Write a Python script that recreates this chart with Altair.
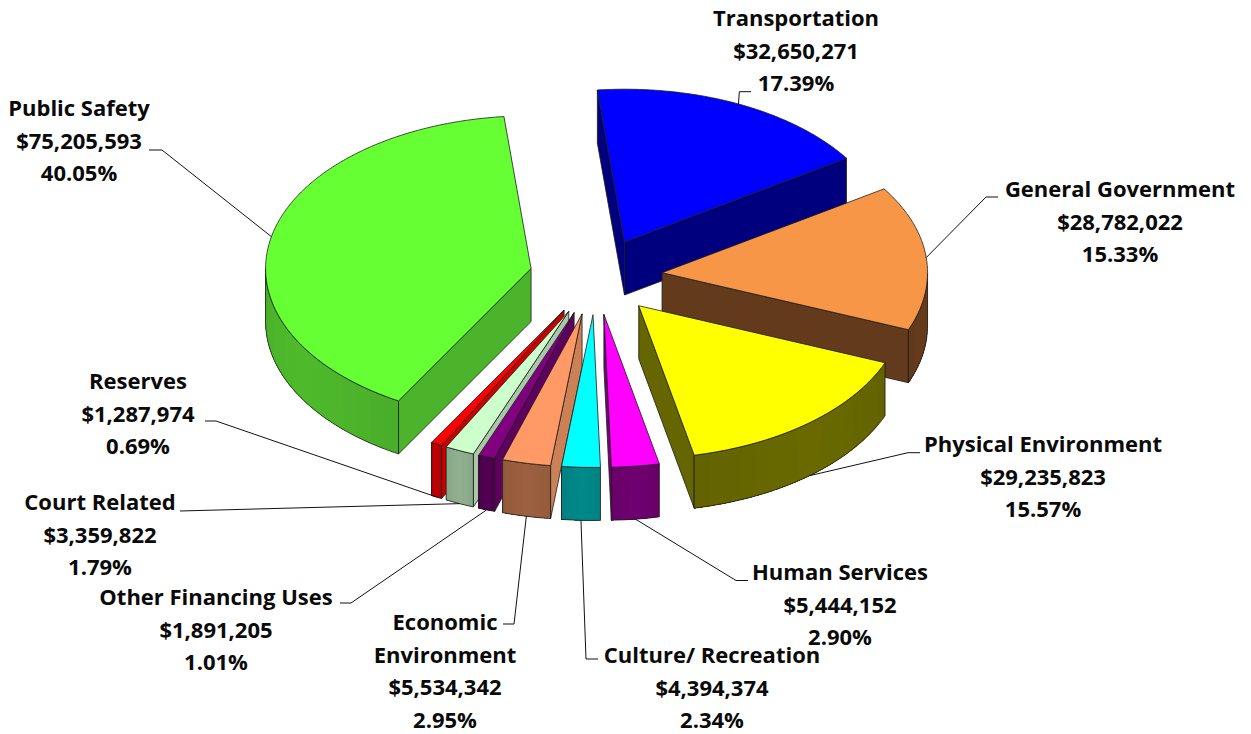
import math
import altair as alt

# Spending by function, listed clockwise from the top of the pie
names = ["Transportation", "General Government", "Physical Environment", "Human Services",
         "Culture/ Recreation", "Economic|Environment", "Other Financing Uses", "Court Related",
         "Reserves", "Public Safety"]
amounts = [32650271, 28782022, 29235823, 5444152, 4394374, 5534342, 1891205, 3359822, 1287974, 75205593]
percents = ["17.39%", "15.33%", "15.57%", "2.90%", "2.34%", "2.95%", "1.01%", "1.79%", "0.69%", "40.05%"]

top_colors = ["#0000ff", "#f79646", "#ffff00", "#ff00ff", "#00ffff", "#ff9966", "#800080", "#ccffcc", "#ff0000", "#66ff33"]
side_colors = ["#00007f", "#633a1c", "#666600", "#7a007a", "#008b8b", "#cc8055", "#5e005e", "#a8c8a8", "#cc0000", "#4cb42a"]
front_colors = ["#00007f", "#633a1c", "#666600", "#6c006c", "#008585", "#985e3e", "#4f004f", "#8cab8c", "#b80000", "#4cb42a"]

# Pie projection: flattened ellipse with a straight extrusion
W, H = 1251, 734
CX, CY = 596.0, 276.5
RX, RY = 265.5, 152.8
DEPTH = 53.0
EXPLODE = 0.25
START_DEG = -5.87
OUTLINE = "#1c1c1c"

# Painter's order: far slices first, then the thin wedges left to right
draw_order = [0, 1, 2, 9, 8, 7, 6, 5, 4, 3]

# Label layout: centre x, first line y, leader elbow and stub end
label_x = [796, 1120, 1043, 840, 712, 445, 216, 100, 138, 79]
label_y = [19, 190, 445, 573, 656, 623, 598, 503, 382, 109]
elbow = [(739.3, 91.7), (986, 197), (908, 452.7), (736, 580.5), (586, 659),
         (514, 624), (351, 603), (180, 511), (216, 421), (162, 150)]
stub = [(751, 91.7), (998, 197), (920, 452.7), (748, 580.5), (598, 659),
        (503, 624), (340, 603), (180, 511), (205, 421), (149, 150)]
LINE_STEP = 32.5


def ellipse(deg):
    t = math.radians(deg)
    return RX * math.sin(t), -RY * math.cos(t)


def polygon(points, fill, stroke=OUTLINE, width=0.8):
    ring = [list(p) for p in points] + [list(points[0])]
    return {"type": "Feature", "properties": {"fill": fill, "stroke": stroke, "sw": width},
            "geometry": {"type": "Polygon", "coordinates": [ring]}}


def arc(ax, ay, a0, a1, dy=0.0):
    steps = max(2, int(abs(a1 - a0) * 2))
    pts = []
    for i in range(steps + 1):
        ex, ey = ellipse(a0 + (a1 - a0) * i / steps)
        pts.append((ax + ex, ay + ey + dy))
    return pts


def shade(color, factor):
    rgb = [int(color[k:k + 2], 16) for k in (1, 3, 5)]
    return "#" + "".join(f"{min(255, round(c * factor)):02x}" for c in rgb)


total = sum(amounts)
spans = []
cursor = START_DEG
for value in amounts:
    sweep = value / total * 360
    spans.append((cursor, cursor + sweep))
    cursor += sweep

apexes = []
for a0, a1 in spans:
    ex, ey = ellipse((a0 + a1) / 2)
    apexes.append((CX + EXPLODE * ex, CY + EXPLODE * ey))

faces = []
for i in draw_order:
    a0, a1 = spans[i]
    ax, ay = apexes[i]
    # Radial walls turned towards the viewer
    if -math.cos(math.radians(a0 - 90)) > 0:
        p = arc(ax, ay, a0, a0)[0]
        faces.append(polygon([(ax, ay), p, (p[0], p[1] + DEPTH), (ax, ay + DEPTH)], side_colors[i]))
    if -math.cos(math.radians(a1 + 90)) > 0:
        p = arc(ax, ay, a1, a1)[0]
        faces.append(polygon([(ax, ay), p, (p[0], p[1] + DEPTH), (ax, ay + DEPTH)], side_colors[i]))
    # Rim wall over the front half of the ellipse: overlapping bands give a soft tone
    # change, brightest mid-way, and a single outline goes on top
    lo, hi = max(a0, 90.0), min(a1, 270.0)
    if hi > lo:
        bands = 16
        for b in range(bands):
            b0 = lo + (hi - lo) * b / bands
            t = (b + 0.5) / bands
            tone = shade(front_colors[i], 1.03 - 0.07 * abs(2 * t - 1) ** 1.5)
            faces.append(polygon(arc(ax, ay, b0, hi) + arc(ax, ay, hi, b0, DEPTH), tone, tone, 0))
        faces.append(polygon(arc(ax, ay, lo, hi) + arc(ax, ay, hi, lo, DEPTH), "transparent"))
    faces.append(polygon([(ax, ay)] + arc(ax, ay, a0, a1), top_colors[i]))

leaders = []
labels = []
for i, (a0, a1) in enumerate(spans):
    mid = (a0 + a1) / 2
    ex, ey = ellipse(mid)
    drop = DEPTH if math.cos(math.radians(mid)) < 0 else 0.0
    start = (apexes[i][0] + ex, apexes[i][1] + ey + drop)
    leaders.append({"type": "Feature", "properties": {},
                    "geometry": {"type": "LineString",
                                 "coordinates": [list(start), list(elbow[i]), list(stub[i])]}})
    rows = names[i].split("|") + [f"${amounts[i]:,}", percents[i]]
    for r, row in enumerate(rows):
        labels.append({"x": label_x[i], "y": label_y[i] + r * LINE_STEP, "label": row})

identity = dict(type="identity", scale=1, translate=[0, 0])

wedges = alt.Chart(alt.InlineData(values=faces)).mark_geoshape(strokeJoin="round").encode(
    fill=alt.Fill("properties.fill:N", scale=None),
    stroke=alt.Stroke("properties.stroke:N", scale=None),
    strokeWidth=alt.StrokeWidth("properties.sw:Q", scale=None),
).project(**identity)

lines = alt.Chart(alt.InlineData(values=leaders)).mark_geoshape(
    filled=False, stroke="#111111", strokeWidth=1.0
).project(**identity)

text = alt.Chart(alt.InlineData(values=labels)).mark_text(
    font="Open Sans", fontWeight="bold", fontSize=22, color="#0a0a0a", align="center", baseline="middle"
).encode(
    x=alt.X("x:Q", scale=None, axis=None),
    y=alt.Y("y:Q", scale=None, axis=None),
    text="label:N",
)

chart = alt.layer(wedges, lines, text).properties(
    width=W, height=H, padding=0, autosize=alt.AutoSizeParams(type="none"), background="white"
).configure_view(stroke=None)

chart.save("out.html", embed_options={"renderer": "svg", "actions": False})
